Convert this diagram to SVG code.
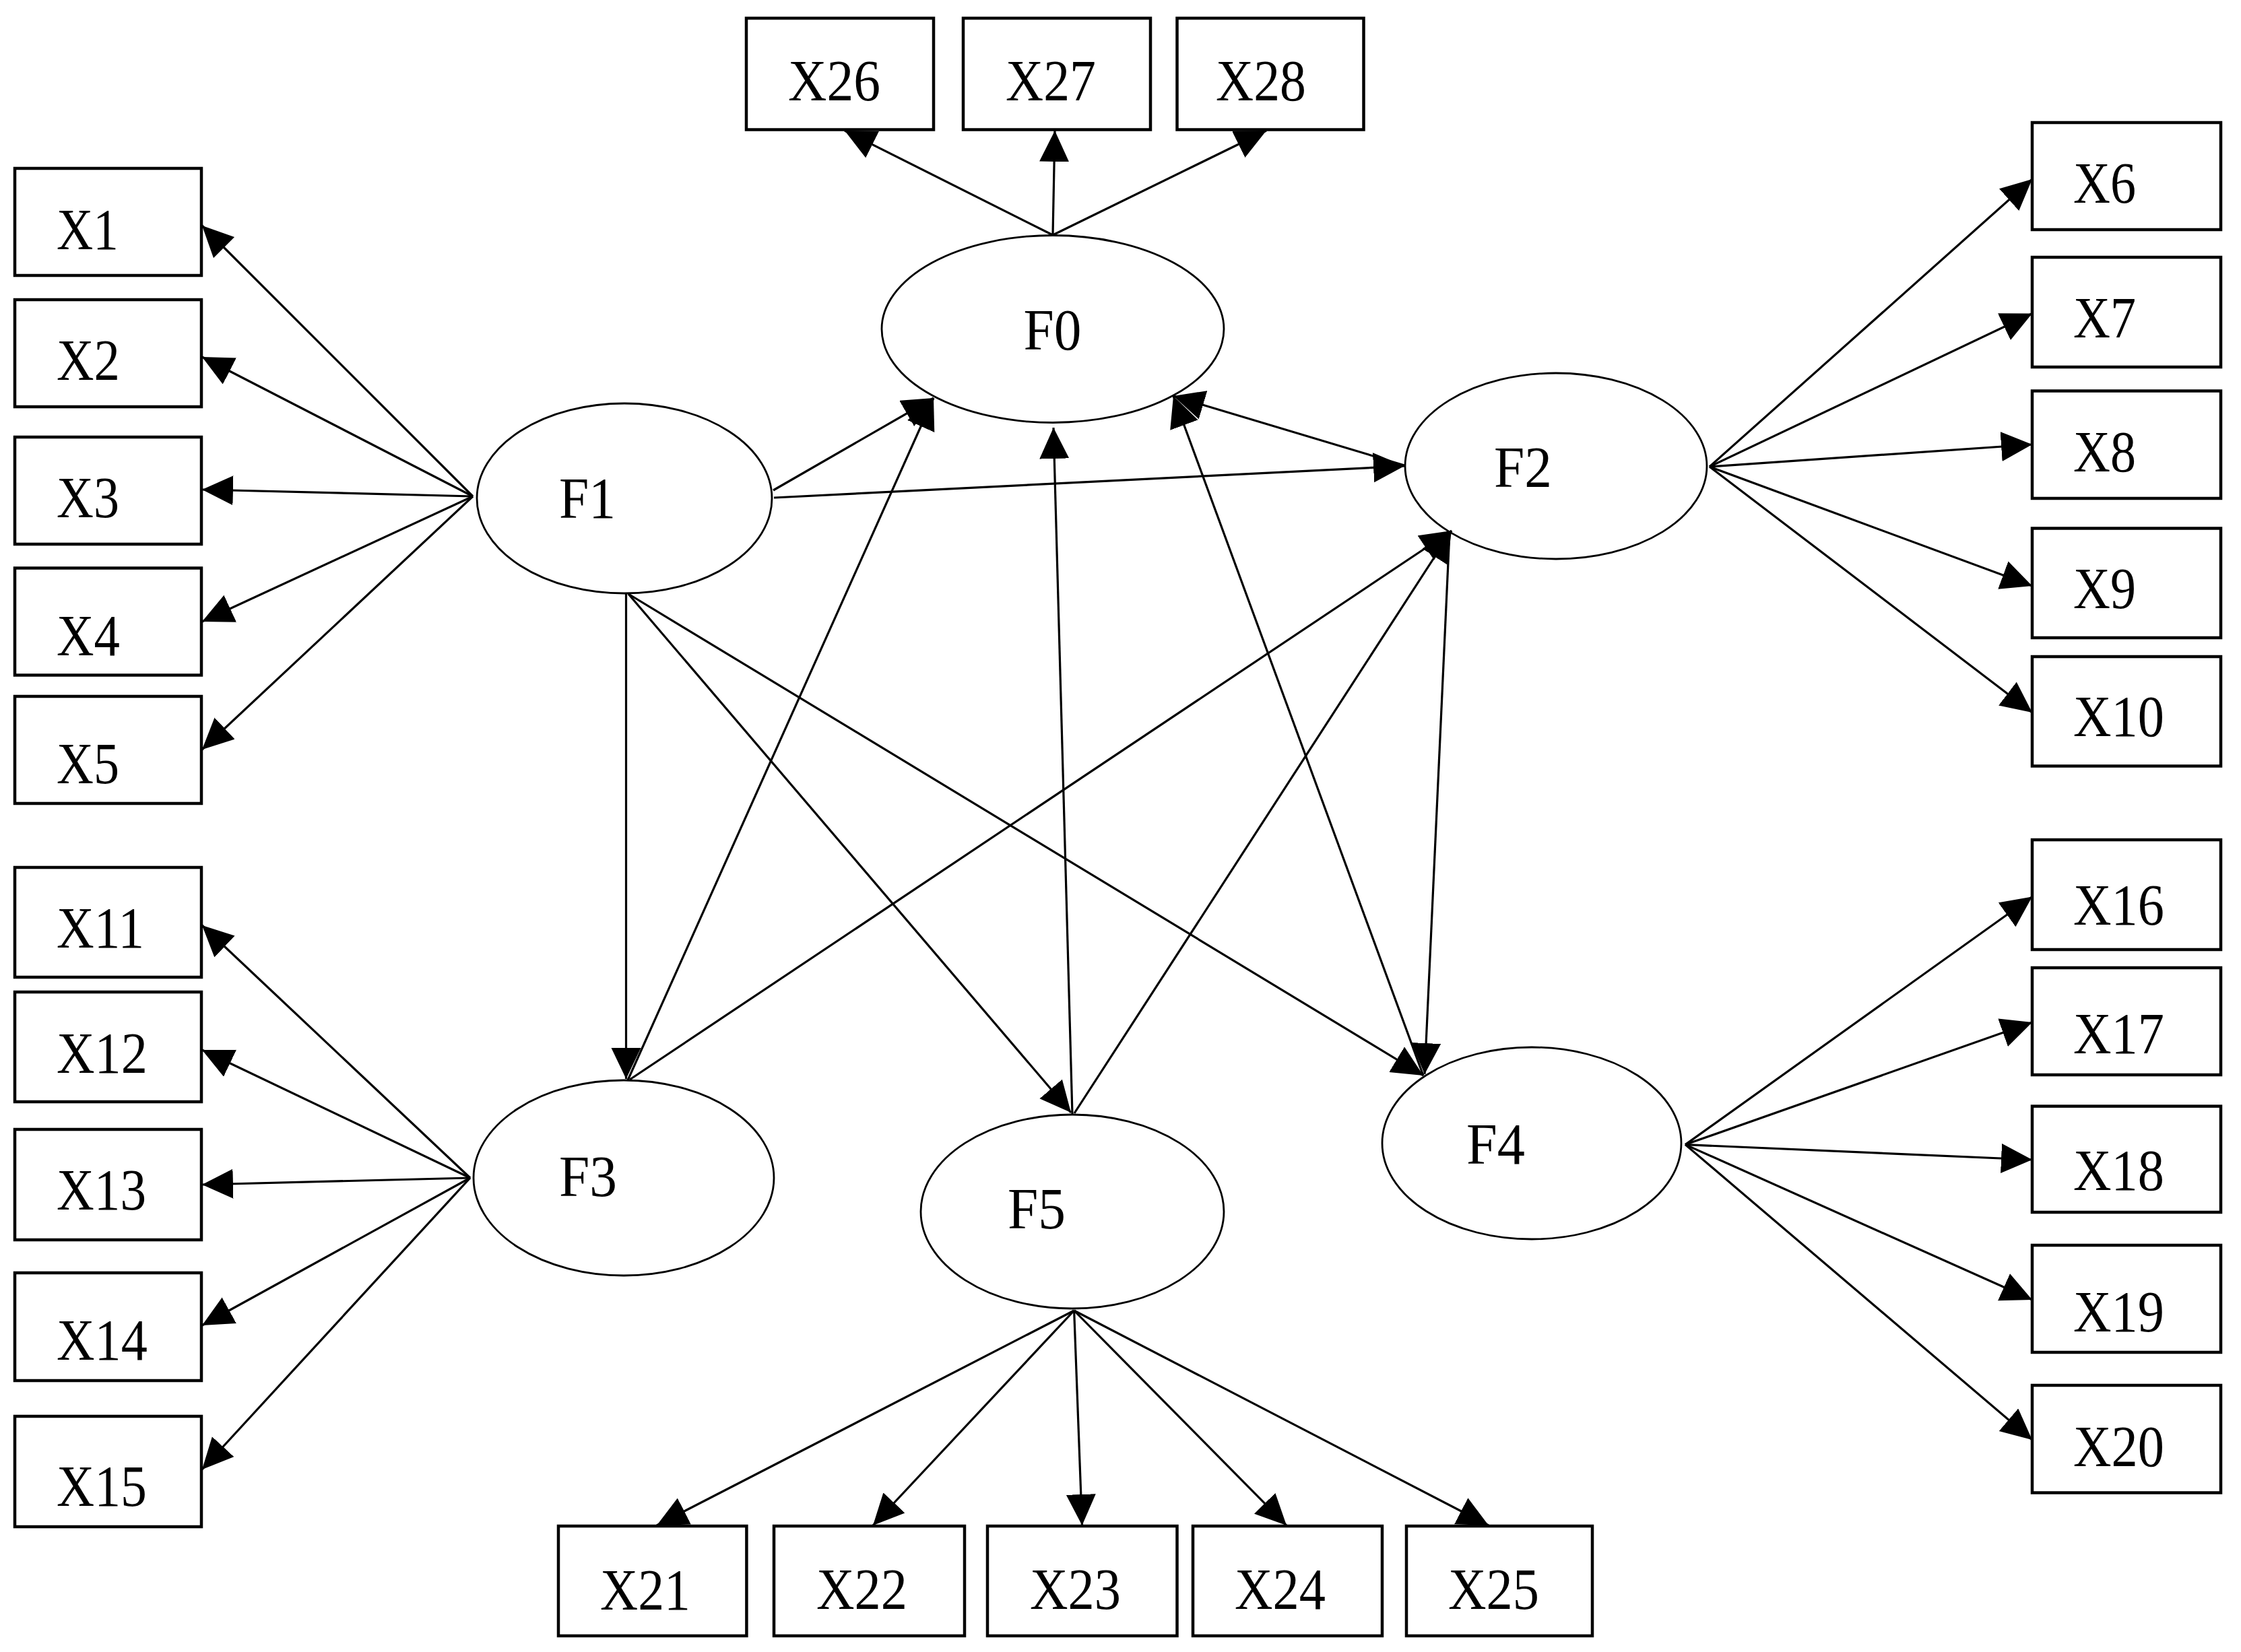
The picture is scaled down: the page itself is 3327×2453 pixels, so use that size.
<svg xmlns="http://www.w3.org/2000/svg" width="3327" height="2453" viewBox="0 0 3327 2453">
<style>
.box{fill:#fff;stroke:#000;stroke-width:4.5}
.lat{fill:#fff;stroke:#000;stroke-width:2.8}
.t{font-family:"Liberation Serif","Times New Roman",serif;font-size:86px;fill:#000}
.c{stroke:#000;stroke-width:3.2;fill:none;marker-end:url(#ah)}
</style>
<defs>
<marker id="ah" markerUnits="userSpaceOnUse" markerWidth="48" markerHeight="46" refX="46" refY="22" orient="auto">
<path d="M0,0 L46,22 L0,44 Z" fill="#000"/>
</marker>
</defs>
<rect width="3327" height="2453" fill="#fff"/>
<g id="nodes">
<g id="X1"><rect class="box" x="22" y="250" width="277" height="159"/><text class="t" x="84" y="370" textLength="92" lengthAdjust="spacingAndGlyphs">X1</text></g>
<g id="X2"><rect class="box" x="22" y="445" width="277" height="159"/><text class="t" x="84" y="564" textLength="94" lengthAdjust="spacingAndGlyphs">X2</text></g>
<g id="X3"><rect class="box" x="22" y="649" width="277" height="159"/><text class="t" x="84" y="768" textLength="93" lengthAdjust="spacingAndGlyphs">X3</text></g>
<g id="X4"><rect class="box" x="22" y="843.5" width="277" height="159"/><text class="t" x="84" y="972.7" textLength="94" lengthAdjust="spacingAndGlyphs">X4</text></g>
<g id="X5"><rect class="box" x="22" y="1034" width="277" height="159"/><text class="t" x="84" y="1162.6" textLength="93" lengthAdjust="spacingAndGlyphs">X5</text></g>
<g id="X11"><rect class="box" x="22" y="1288" width="277" height="163"/><text class="t" x="84" y="1406.8" textLength="130" lengthAdjust="spacingAndGlyphs">X11</text></g>
<g id="X12"><rect class="box" x="22" y="1473" width="277" height="163"/><text class="t" x="84" y="1593" textLength="135" lengthAdjust="spacingAndGlyphs">X12</text></g>
<g id="X13"><rect class="box" x="22" y="1677" width="277" height="164"/><text class="t" x="84" y="1795.5" textLength="133" lengthAdjust="spacingAndGlyphs">X13</text></g>
<g id="X14"><rect class="box" x="22" y="1890" width="277" height="160"/><text class="t" x="84" y="2018.5" textLength="135" lengthAdjust="spacingAndGlyphs">X14</text></g>
<g id="X15"><rect class="box" x="22" y="2103" width="277" height="164"/><text class="t" x="84" y="2236" textLength="134" lengthAdjust="spacingAndGlyphs">X15</text></g>
<g id="X6"><rect class="box" x="3017" y="182" width="280" height="159"/><text class="t" x="3078" y="300.7" textLength="93" lengthAdjust="spacingAndGlyphs">X6</text></g>
<g id="X7"><rect class="box" x="3017" y="382" width="280" height="163"/><text class="t" x="3078" y="501" textLength="93" lengthAdjust="spacingAndGlyphs">X7</text></g>
<g id="X8"><rect class="box" x="3017" y="580.5" width="280" height="159.5"/><text class="t" x="3078" y="700" textLength="93" lengthAdjust="spacingAndGlyphs">X8</text></g>
<g id="X9"><rect class="box" x="3017" y="784.5" width="280" height="162.5"/><text class="t" x="3078" y="902.6" textLength="93" lengthAdjust="spacingAndGlyphs">X9</text></g>
<g id="X10"><rect class="box" x="3017" y="975" width="280" height="162.5"/><text class="t" x="3078" y="1093" textLength="135" lengthAdjust="spacingAndGlyphs">X10</text></g>
<g id="X16"><rect class="box" x="3017" y="1247" width="280" height="163"/><text class="t" x="3078" y="1373" textLength="135" lengthAdjust="spacingAndGlyphs">X16</text></g>
<g id="X17"><rect class="box" x="3017" y="1437" width="280" height="159"/><text class="t" x="3078" y="1563.7" textLength="135" lengthAdjust="spacingAndGlyphs">X17</text></g>
<g id="X18"><rect class="box" x="3017" y="1642.6" width="280" height="157.4"/><text class="t" x="3078" y="1767" textLength="135" lengthAdjust="spacingAndGlyphs">X18</text></g>
<g id="X19"><rect class="box" x="3017" y="1849" width="280" height="159"/><text class="t" x="3078" y="1977" textLength="135" lengthAdjust="spacingAndGlyphs">X19</text></g>
<g id="X20"><rect class="box" x="3017" y="2057" width="280" height="159.5"/><text class="t" x="3078" y="2176.6" textLength="135" lengthAdjust="spacingAndGlyphs">X20</text></g>
<g id="X26"><rect class="box" x="1108" y="27" width="278" height="165.5"/><text class="t" x="1170" y="149" textLength="137" lengthAdjust="spacingAndGlyphs">X26</text></g>
<g id="X27"><rect class="box" x="1430" y="27" width="278" height="165.5"/><text class="t" x="1493" y="149" textLength="134" lengthAdjust="spacingAndGlyphs">X27</text></g>
<g id="X28"><rect class="box" x="1747.5" y="27" width="277" height="165.5"/><text class="t" x="1805" y="149" textLength="134" lengthAdjust="spacingAndGlyphs">X28</text></g>
<g id="X21"><rect class="box" x="829" y="2266" width="279.4" height="163"/><text class="t" x="891" y="2390" textLength="134" lengthAdjust="spacingAndGlyphs">X21</text></g>
<g id="X22"><rect class="box" x="1149" y="2266" width="283" height="163"/><text class="t" x="1212" y="2389" textLength="135" lengthAdjust="spacingAndGlyphs">X22</text></g>
<g id="X23"><rect class="box" x="1466" y="2266" width="281.5" height="163"/><text class="t" x="1529" y="2389" textLength="135" lengthAdjust="spacingAndGlyphs">X23</text></g>
<g id="X24"><rect class="box" x="1771" y="2266" width="281" height="163"/><text class="t" x="1833" y="2389" textLength="135" lengthAdjust="spacingAndGlyphs">X24</text></g>
<g id="X25"><rect class="box" x="2088" y="2266" width="276" height="163"/><text class="t" x="2150" y="2389" textLength="135" lengthAdjust="spacingAndGlyphs">X25</text></g>
<g id="F0"><ellipse class="lat" cx="1563" cy="488.5" rx="254" ry="139"/><text class="t" x="1519.5" y="519" textLength="86" lengthAdjust="spacingAndGlyphs">F0</text></g>
<g id="F1"><ellipse class="lat" cx="927" cy="740" rx="219" ry="141"/><text class="t" x="830" y="769" textLength="84" lengthAdjust="spacingAndGlyphs">F1</text></g>
<g id="F2"><ellipse class="lat" cx="2310" cy="692" rx="224" ry="138"/><text class="t" x="2218" y="723" textLength="86" lengthAdjust="spacingAndGlyphs">F2</text></g>
<g id="F3"><ellipse class="lat" cx="926" cy="1749" rx="223" ry="145"/><text class="t" x="830" y="1776" textLength="86" lengthAdjust="spacingAndGlyphs">F3</text></g>
<g id="F4"><ellipse class="lat" cx="2274" cy="1697.5" rx="222" ry="142.5"/><text class="t" x="2177" y="1728" textLength="87" lengthAdjust="spacingAndGlyphs">F4</text></g>
<g id="F5"><ellipse class="lat" cx="1592" cy="1799" rx="225" ry="144"/><text class="t" x="1496" y="1824" textLength="86" lengthAdjust="spacingAndGlyphs">F5</text></g>
</g>
<g id="connectors">
<line class="c" x1="702" y1="737" x2="300" y2="335"/>
<line class="c" x1="702" y1="737" x2="300" y2="530"/>
<line class="c" x1="702" y1="737" x2="300" y2="727"/>
<line class="c" x1="702" y1="737" x2="300" y2="923"/>
<line class="c" x1="702" y1="737" x2="300" y2="1113"/>
<line class="c" x1="698" y1="1749" x2="300" y2="1374"/>
<line class="c" x1="698" y1="1749" x2="300" y2="1559"/>
<line class="c" x1="698" y1="1749" x2="300" y2="1759"/>
<line class="c" x1="698" y1="1749" x2="300" y2="1968"/>
<line class="c" x1="698" y1="1749" x2="300" y2="2182"/>
<line class="c" x1="1563" y1="349" x2="1254" y2="194"/>
<line class="c" x1="1563" y1="349" x2="1566" y2="194"/>
<line class="c" x1="1563" y1="349" x2="1880" y2="194"/>
<line class="c" x1="2538" y1="693" x2="3017" y2="266"/>
<line class="c" x1="2538" y1="693" x2="3017" y2="465.5"/>
<line class="c" x1="2538" y1="693" x2="3017" y2="660"/>
<line class="c" x1="2538" y1="693" x2="3017" y2="870"/>
<line class="c" x1="2538" y1="693" x2="3017" y2="1058"/>
<line class="c" x1="2502" y1="1699.6" x2="3017" y2="1331.5"/>
<line class="c" x1="2502" y1="1699.6" x2="3017" y2="1518"/>
<line class="c" x1="2502" y1="1699.6" x2="3017" y2="1722"/>
<line class="c" x1="2502" y1="1699.6" x2="3017" y2="1930"/>
<line class="c" x1="2502" y1="1699.6" x2="3017" y2="2138"/>
<line class="c" x1="1594.6" y1="1946" x2="975" y2="2265"/>
<line class="c" x1="1594.6" y1="1946" x2="1296" y2="2265"/>
<line class="c" x1="1594.6" y1="1946" x2="1606.5" y2="2265"/>
<line class="c" x1="1594.6" y1="1946" x2="1910" y2="2265"/>
<line class="c" x1="1594.6" y1="1946" x2="2210" y2="2265"/>
<line class="c" x1="1148" y1="728" x2="1386" y2="591"/>
<line class="c" x1="1149" y1="739" x2="2085" y2="692"/>
<line class="c" x1="929.5" y1="881" x2="929.5" y2="1602"/>
<line class="c" x1="933" y1="882" x2="1590" y2="1652"/>
<line class="c" x1="933" y1="882" x2="2113" y2="1597"/>
<line class="c" x1="932" y1="1604" x2="1386" y2="591"/>
<line class="c" x1="935" y1="1603" x2="2155" y2="788"/>
<line class="c" x1="1592" y1="1655" x2="1564" y2="635"/>
<line class="c" x1="1595" y1="1653" x2="2155" y2="788"/>
<line class="c" x1="2113" y1="1597" x2="1742" y2="588"/>
<line class="c" x1="2085" y1="691" x2="1742" y2="588"/>
<line class="c" x1="2152" y1="791" x2="2115" y2="1595"/>
</g>
</svg>
